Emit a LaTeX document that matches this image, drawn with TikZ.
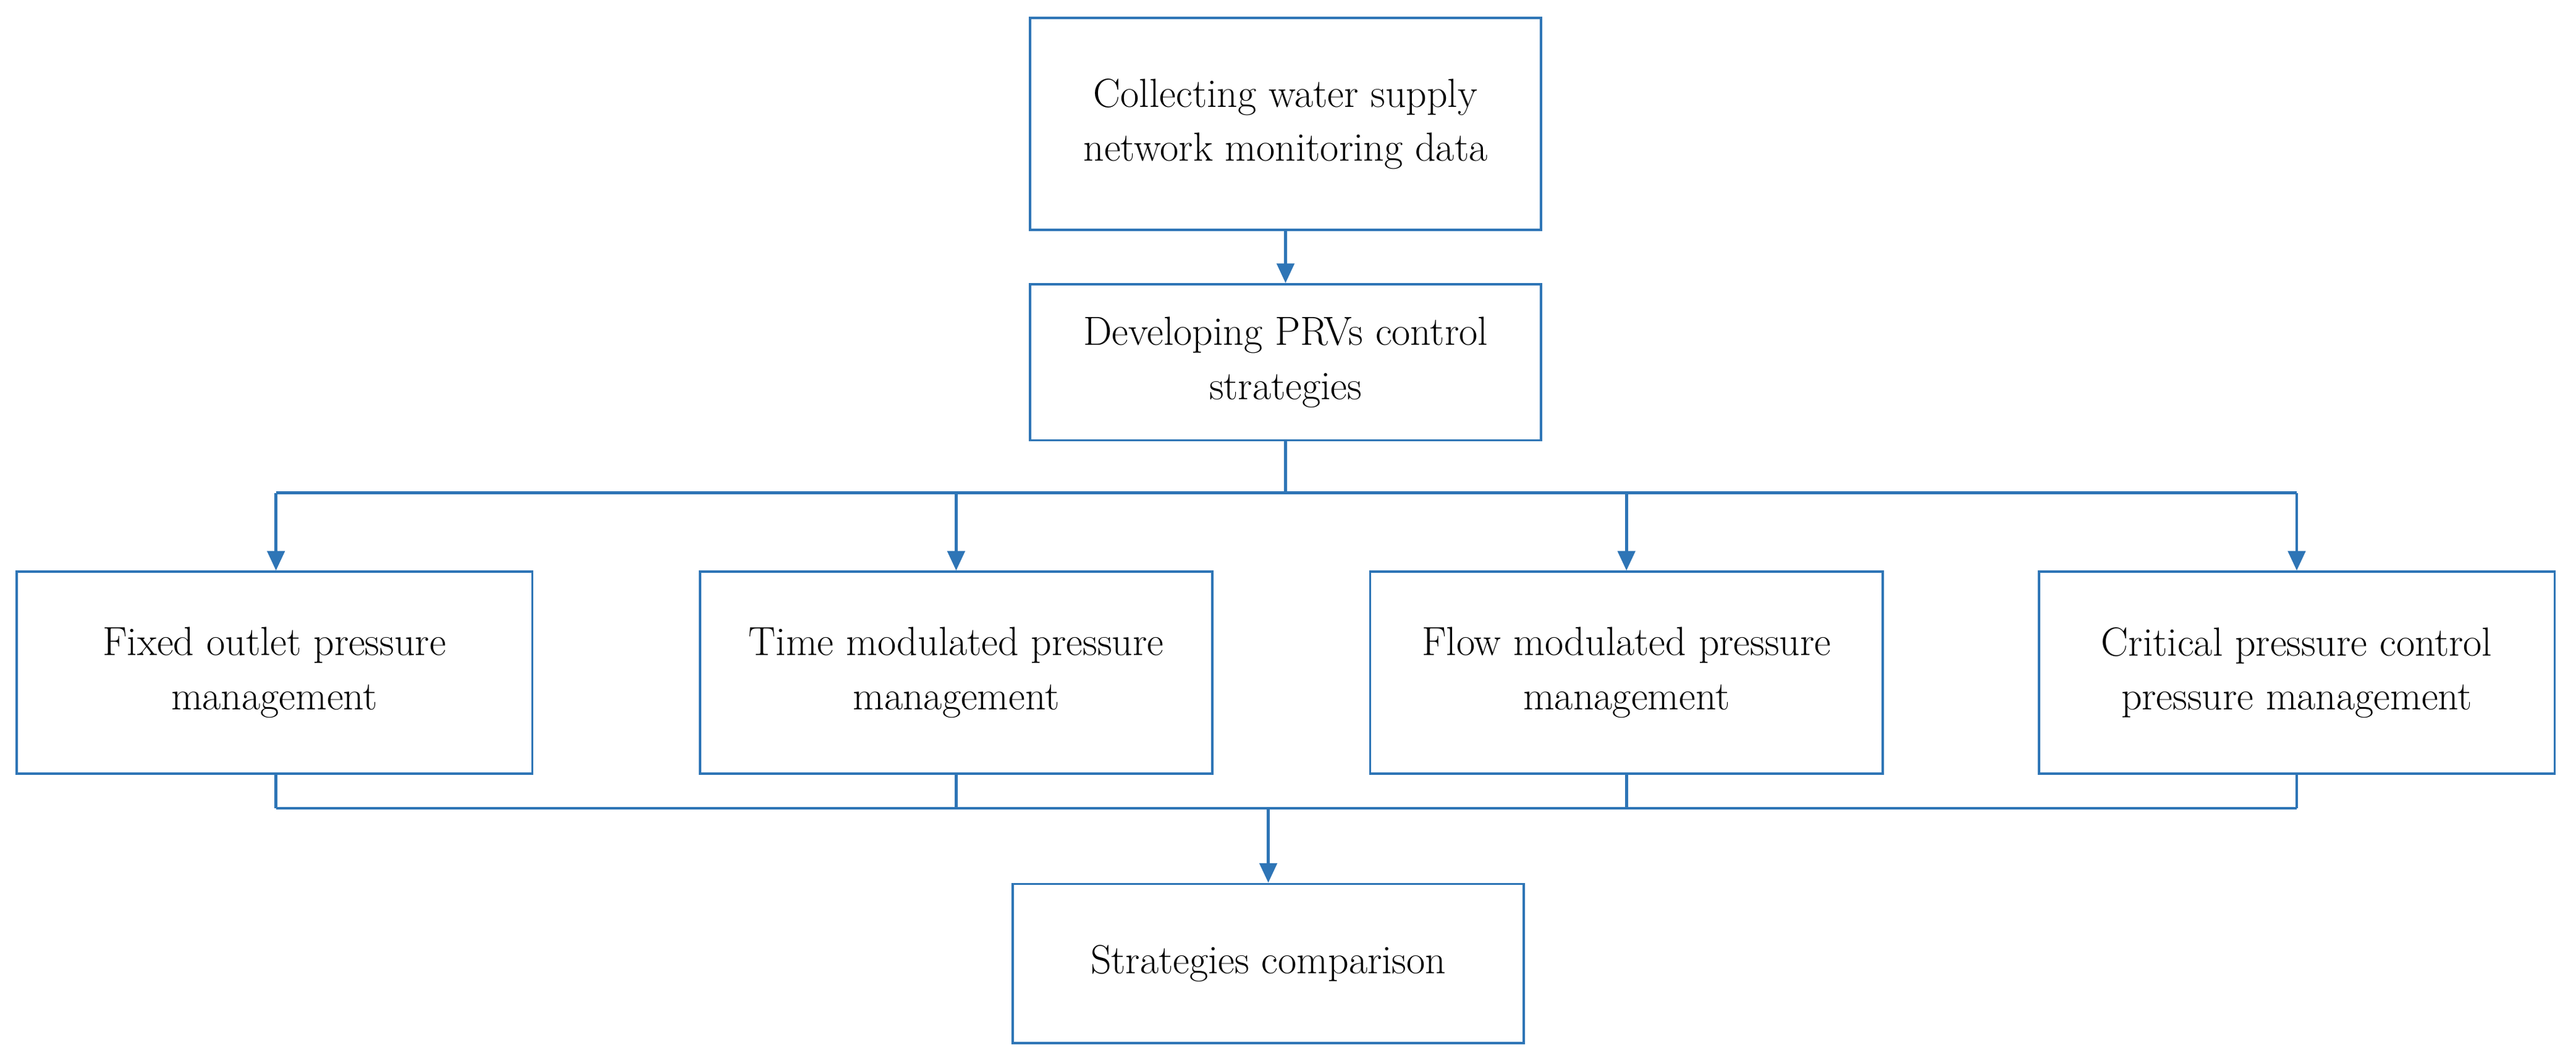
\documentclass[tikz,border=0pt]{standalone}
\usetikzlibrary{arrows.meta}
\definecolor{bl}{RGB}{46,117,182}
\begin{document}
\begin{tikzpicture}[x=0.02659cm,y=-0.02659cm,
  box/.style={draw=bl,line width=1.1pt,align=center,font=\fontsize{18.7}{25}\selectfont,inner sep=0pt},
  ln/.style={draw=bl,line width=1.3pt},
  ar/.style={ln,-{Triangle[length=9pt,width=8pt]}}]
\useasboundingbox (0,0) rectangle (1568,645.7);
\node[box,minimum width={311*0.02659cm},minimum height={129*0.02659cm}] (a) at (782.5,75.5) {Collecting water supply\\network monitoring data};
\node[box,minimum width={311*0.02659cm},minimum height={95*0.02659cm}] (b) at (782.5,220.5) {Developing PRVs control\\strategies};
\foreach \n/\l/\r/\t in {c1/10/324/{Fixed outlet pressure\\management},c2/426/738/{Time modulated pressure\\management},c3/834/1146/{Flow modulated pressure\\management},c4/1241/1555/{Critical pressure control\\pressure management}}{
  \node[box,minimum width={(\r-\l)*0.02659cm},minimum height={123*0.02659cm}] (\n) at ({(\l+\r)/2},409.5) {\t};
}
\node[box,minimum width={311*0.02659cm},minimum height={97*0.02659cm}] (d) at (772,586.5) {Strategies comparison};
\coordinate (s) at (782.5,300);
\coordinate (m) at (772,492);
\draw[ar] (a) -- (b);
\draw[ln] (b.south) -- (s);
\draw[ln] (168,300) -- (1398,300);
\foreach \x/\n in {168/c1,582/c2,990/c3,1398/c4}{
  \draw[ar] (\x,300) -- (\n.north -| \x,0);
  \draw[ln] (\n.south -| \x,0) -- (\x,492);
}
\draw[ln] (168,492) -- (1398,492);
\draw[ar] (m) -- (d);
\end{tikzpicture}
\end{document}
